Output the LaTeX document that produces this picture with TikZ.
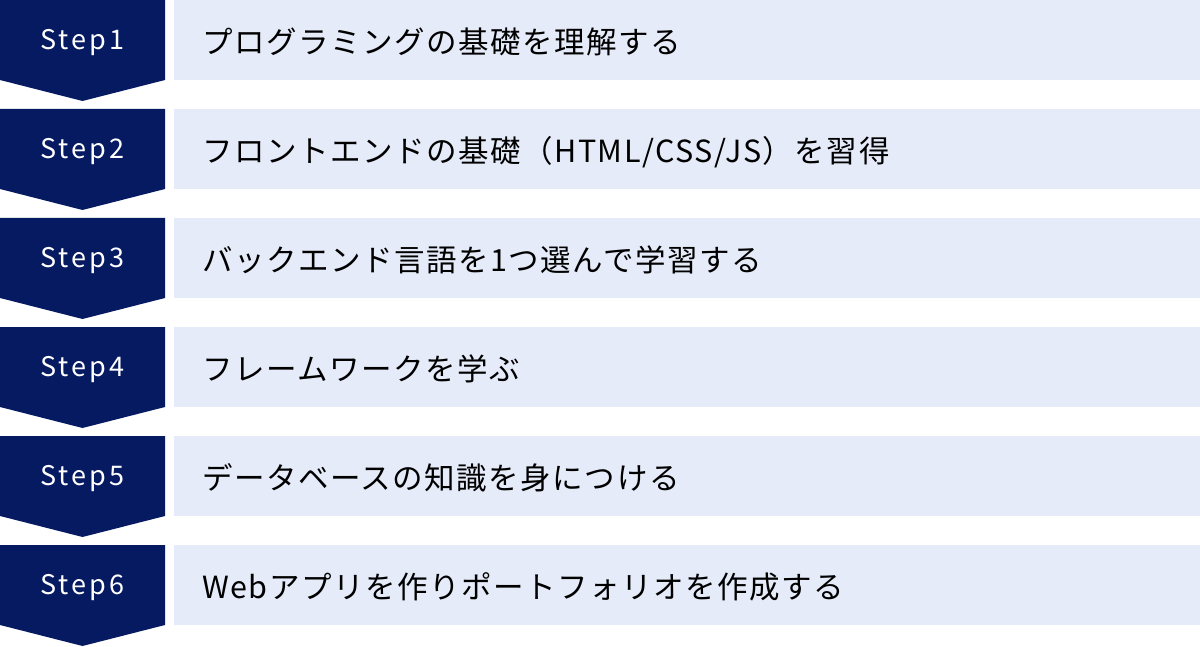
\documentclass[tikz,border=0pt]{standalone}
\usepackage{fontspec}
\newfontfamily\jpfont{Noto Sans CJK JP}[LetterSpace=5]
\newfontfamily\stepfont{Noto Sans CJK JP}[LetterSpace=11]
\definecolor{navy}{HTML}{061A62}
\definecolor{lightblue}{HTML}{E5EBF8}

\begin{document}
\begin{tikzpicture}[x=1pt,y=1pt,
		stepbox/.style={fill=navy},
		steplabel/.style={text=white,font=\stepfont\fontsize{27}{32}\selectfont},
		taskbox/.style={fill=lightblue,anchor=north west,minimum width=1026pt,minimum height=80pt,
			text width=970pt,inner xsep=28pt,inner ysep=0pt,align=left,
			text height=30pt,text depth=3pt,
			font=\jpfont\fontsize{30.5}{36}\selectfont}]
		\useasboundingbox (0,0) rectangle (1200,-647);
		\foreach \i/\task in {1/{プログラミングの基礎を理解する},
				2/{フロントエンドの基礎（HTML/CSS/JS）を習得},
				3/{バックエンド言語を1つ選んで学習する},
				4/{フレームワークを学ぶ},
				5/{データベースの知識を身につける},
				6/{Webアプリを作りポートフォリオを作成する}}{
			\pgfmathsetmacro{\top}{-109*(\i-1)}
			\fill[stepbox] (0,\top) -- ++(165,0) -- ++(0,-80) -- ++(-82.5,-21) -- ++(-82.5,21) -- cycle;
			\node[steplabel] (step\i) at (82.5,\top-43) {Step\i};
			\node[taskbox] (task\i) at (174,\top) {\task};
		}
		\end{tikzpicture}
\end{document}
